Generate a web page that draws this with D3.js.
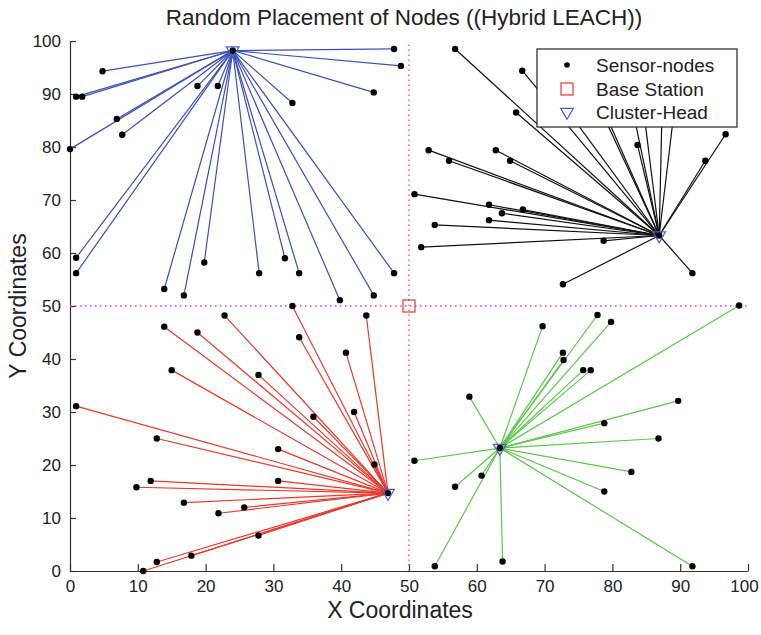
<!DOCTYPE html>
<html>
<head>
<meta charset="UTF-8">
<script src="https://d3js.org/d3.v7.min.js"></script>
<style>
  body { margin: 0; background: #fff; font-family: "Liberation Sans", Arial, sans-serif; }
  .axis text { font-size: 17px; fill: #222; font-family: "Liberation Sans", Arial, sans-serif; }
  .axis path, .axis line { stroke: #333; stroke-width: 1.2; }
</style>
</head>
<body>
<script>
// cluster heads, one per quadrant
var blueHead = [24, 98.2];
var blackHead = [86.9, 63.3];
var redHead = [46.9, 14.7];
var greenHead = [63.4, 23.2];
var baseStation = [50, 50];

// sensor nodes per cluster (x, y)
var blueNodes = [
  [4.8, 94.3], [0.9, 89.5], [1.8, 89.5], [6.9, 85.3], [7.7, 82.3], [0, 79.6],
  [18.8, 91.5], [21.8, 91.5], [47.8, 98.5], [48.8, 95.3], [44.8, 90.3], [32.8, 88.3],
  [0.9, 59.1], [0.9, 56.2], [13.9, 53.2], [16.8, 52], [19.8, 58.2], [27.9, 56.2],
  [31.7, 59], [33.8, 56.2], [39.8, 51.1], [44.8, 52], [47.8, 56.2]
];
var blackNodes = [
  [56.8, 98.5], [66.7, 94.4], [65.8, 86.5], [52.9, 79.4], [55.9, 77.4], [62.8, 79.4],
  [64.9, 77.4], [83.7, 80.4], [96.7, 82.4], [93.7, 77.4],
  [71, 91], [75, 96], [78, 89], [82, 93], [84.5, 88], [87.5, 97], [89.5, 91],
  [50.8, 71.1], [61.8, 69.1], [66.8, 68.2], [63.7, 67.5], [53.8, 65.3], [61.8, 66.2],
  [51.8, 61.1], [78.7, 62.3], [91.8, 56.2], [72.7, 54.1]
];
var redNodes = [
  [32.8, 50], [22.8, 48.2], [43.7, 48.2], [13.9, 46.1], [18.8, 45], [33.8, 44.1],
  [40.7, 41.2], [15, 37.9], [27.8, 37], [0.9, 31.1], [41.9, 30], [35.9, 29.1],
  [12.8, 25], [30.7, 23], [44.9, 20.1], [11.9, 17], [9.8, 15.8], [30.7, 17],
  [16.8, 12.9], [25.7, 12], [21.9, 10.9], [27.8, 6.7], [17.9, 2.9], [12.8, 1.7], [10.8, 0]
];
var greenNodes = [
  [98.7, 50.1], [77.8, 48.3], [79.8, 47], [69.7, 46.2], [72.7, 41.2], [72.8, 39.8],
  [75.7, 37.9], [76.8, 37.9], [58.9, 32.9], [89.7, 32.1], [78.8, 27.9], [86.8, 25],
  [50.8, 20.8], [82.8, 18.7], [60.7, 18], [56.8, 15.9], [78.8, 15], [53.8, 0.9],
  [63.8, 1.8], [91.8, 0.9]
];

var xTicks = [0, 10, 20, 30, 40, 50, 60, 70, 80, 90, 100];
var yTicks = [0, 10, 20, 30, 40, 50, 60, 70, 80, 90, 100];
var legendLabels = ["Sensor-nodes", "Base Station", "Cluster-Head"];

var clusters = [
  { head: blueHead, nodes: blueNodes, color: "#3d4fb8" },
  { head: blackHead, nodes: blackNodes, color: "#111" },
  { head: redHead, nodes: redNodes, color: "#e8392c" },
  { head: greenHead, nodes: greenNodes, color: "#5cc64a" }
];

var W = 761, H = 635;
var svg = d3.select("body").append("svg").attr("width", W).attr("height", H);

var x = d3.scaleLinear().domain([0, 100]).range([70, 748]);
var y = d3.scaleLinear().domain([0, 100]).range([571, 41]);

// axes (inward ticks, no box)
var gx = svg.append("g").attr("class", "axis")
  .attr("transform", "translate(0," + y(0) + ")")
  .call(d3.axisBottom(x).tickValues(xTicks).tickSizeInner(-7).tickSizeOuter(0).tickPadding(9));
// last label sits a little left so it stays inside the page
gx.selectAll(".tick text").filter(d => d === 100).attr("dx", -4);
svg.append("g").attr("class", "axis")
  .attr("transform", "translate(" + x(0) + ",0)")
  .call(d3.axisLeft(y).tickValues(yTicks).tickSizeInner(-6).tickSizeOuter(0).tickPadding(9));

// dotted quadrant dividers
svg.append("line")
  .attr("x1", x(50)).attr("x2", x(50)).attr("y1", y(0)).attr("y2", y(100))
  .attr("stroke", "#d93fd0").attr("stroke-width", 1.3).attr("stroke-dasharray", "1.5,3.5");
svg.append("line")
  .attr("x1", x(0)).attr("x2", x(100)).attr("y1", y(50)).attr("y2", y(50))
  .attr("stroke", "#d93fd0").attr("stroke-width", 1.3).attr("stroke-dasharray", "1.5,3.5");

// links node -> cluster head
clusters.forEach(function(c) {
  svg.append("g").selectAll("line").data(c.nodes).join("line")
    .attr("x1", d => x(d[0])).attr("y1", d => y(d[1]))
    .attr("x2", x(c.head[0])).attr("y2", y(c.head[1]))
    .attr("stroke", c.color).attr("stroke-width", 1.2);
});

// sensor nodes
clusters.forEach(function(c) {
  svg.append("g").selectAll("circle").data(c.nodes.concat([c.head])).join("circle")
    .attr("cx", d => x(d[0])).attr("cy", d => y(d[1])).attr("r", 3.2)
    .attr("fill", "#000");
});

var tri = d3.symbol().type(d3.symbolTriangle).size(70);
function drawHead(g, px, py) {
  g.append("path").attr("d", tri)
    .attr("transform", "translate(" + px + "," + py + ") rotate(180)")
    .attr("fill", "none").attr("stroke", "#4a5fd0").attr("stroke-width", 1.2);
}
clusters.forEach(function(c) { drawHead(svg, x(c.head[0]), y(c.head[1])); });

// base station
svg.append("rect")
  .attr("x", x(baseStation[0]) - 6).attr("y", y(baseStation[1]) - 6)
  .attr("width", 12).attr("height", 12)
  .attr("fill", "none").attr("stroke", "#e8392c").attr("stroke-width", 1.2);

// legend
var lg = svg.append("g");
lg.append("rect").attr("x", 537).attr("y", 49).attr("width", 200).attr("height", 78)
  .attr("fill", "#fff").attr("stroke", "#222").attr("stroke-width", 1.2);
var rowY = [65, 89, 112];
lg.append("circle").attr("cx", 567).attr("cy", rowY[0]).attr("r", 2.8).attr("fill", "#000");
lg.append("rect").attr("x", 561).attr("y", rowY[1] - 6).attr("width", 12).attr("height", 12)
  .attr("fill", "none").attr("stroke", "#e8392c").attr("stroke-width", 1.2);
drawHead(lg, 567, rowY[2]);
lg.selectAll("text").data(legendLabels).join("text")
  .attr("x", 596).attr("y", (d, i) => rowY[i]).attr("dy", "0.36em")
  .attr("font-size", 19).attr("fill", "#222").text(d => d);

// titles
svg.append("text").attr("x", 404).attr("y", 17).attr("dy", "0.36em")
  .attr("text-anchor", "middle").attr("font-size", 22.5).attr("fill", "#222")
  .text("Random Placement of Nodes ((Hybrid LEACH))");
svg.append("text").attr("x", 400).attr("y", 610).attr("dy", "0.36em")
  .attr("text-anchor", "middle").attr("font-size", 23).attr("fill", "#222")
  .text("X Coordinates");
svg.append("text").attr("transform", "translate(18," + y(50) + ") rotate(-90)")
  .attr("dy", "0.36em").attr("text-anchor", "middle").attr("font-size", 23).attr("fill", "#222")
  .text("Y Coordinates");
</script>
</body>
</html>
